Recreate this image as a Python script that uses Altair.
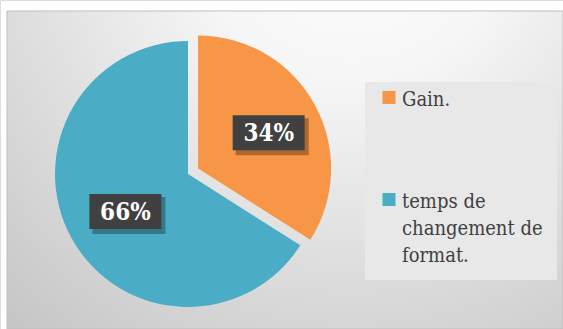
import altair as alt
import pandas as pd

# ---- data ----
categories = ["Gain.", "temps de changement de format."]
values = [34, 66]
explode = [11.5, 0]          # Excel-style slice explosion (px)
slice_order = [0, 1]
colors = ["#F79646", "#4BACC6"]

df = pd.DataFrame({
    "category": categories,
    "value": values,
    "explode": explode,
    "order": slice_order,
})

W, H = 563, 329
CX, CY, R = 188, 174, 133
LABEL_R = 76
BOX_W, BOX_H = 72, 35
SERIF = "DejaVu Serif Condensed, DejaVu Serif"

base = (
    alt.Chart(df)
    .transform_joinaggregate(total="sum(value)")
    .transform_window(cum="sum(value)", sort=[alt.SortField("order")], frame=[None, 0])
    .transform_calculate(
        a0="(datum.cum - datum.value) / datum.total * 2 * PI",
        a1="datum.cum / datum.total * 2 * PI",
        pct="format(datum.value / datum.total, '.0%')",
    )
    .transform_calculate(mid="(datum.a0 + datum.a1) / 2")
    .transform_calculate(
        cx=f"{CX} + datum.explode * sin(datum.mid)",
        cy=f"{CY} - datum.explode * cos(datum.mid)",
    )
    .transform_calculate(
        lx=f"datum.cx + {LABEL_R} * sin(datum.mid) + 4",
        ly=f"datum.cy - {LABEL_R} * cos(datum.mid) + 1",
    )
    .transform_calculate(
        bx0=f"datum.lx - {BOX_W / 2}",
        bx1=f"datum.lx + {BOX_W / 2}",
        by0=f"datum.ly - {BOX_H / 2}",
        by1=f"datum.ly + {BOX_H / 2}",
        sx0=f"datum.lx - {BOX_W / 2} + 3",
        sx1=f"datum.lx + {BOX_W / 2} + 4",
        sy0=f"datum.ly - {BOX_H / 2} + 3",
        sy1=f"datum.ly + {BOX_H / 2} + 5",
    )
)

background = alt.Chart(alt.Data(values=[{}])).mark_rect(
    fill=alt.Gradient(
        gradient="radial",
        stops=[
            alt.GradientStop(color="#ffffff", offset=0),
            alt.GradientStop(color="#f6f6f6", offset=0.3),
            alt.GradientStop(color="#c6c6c6", offset=1),
        ],
        x1=0.62, y1=0.05, r1=0,
        x2=0.62, y2=0.05, r2=0.95,
    ),
    stroke="#bfbfbf",
    strokeWidth=1,
).encode(
    x=alt.value(7), x2=alt.value(W), y=alt.value(11), y2=alt.value(H)
)

arcs = base.mark_arc(outerRadius=R).encode(
    theta=alt.Theta("a0:Q", scale=None, stack=None),
    theta2="a1:Q",
    x=alt.X("cx:Q", scale=None, stack=None),
    y=alt.Y("cy:Q", scale=None, stack=None),
    color=alt.Color(
        "category:N",
        scale=alt.Scale(domain=categories, range=colors),
        legend=alt.Legend(
            title=None,
            orient="none",
            legendX=365,
            legendY=82,
            padding=14,
            fillColor="#e8e8e8",
            symbolType="M-1,-2.31H1V-0.31H-1Z",
            symbolSize=169,
            symbolStrokeWidth=0,
            symbolOpacity=1,
            labelFont=SERIF,
            labelFontSize=20,
            labelColor="#404040",
            labelBaseline="alphabetic",
            labelLimit=220,
            labelOffset=3,
            rowPadding=82,
            labelExpr="datum.label == 'temps de changement de format.' ? ['temps de', 'changement de', 'format.'] : datum.label",
        ),
    ),
    order=alt.Order("order:Q"),
)

shadows = base.mark_rect(fill="#000000", opacity=0.3).encode(
    x=alt.X("sx0:Q", scale=None), x2="sx1:Q",
    y=alt.Y("sy0:Q", scale=None), y2="sy1:Q",
)

boxes = base.mark_rect(fill="#404040").encode(
    x=alt.X("bx0:Q", scale=None), x2="bx1:Q",
    y=alt.Y("by0:Q", scale=None), y2="by1:Q",
)

texts = base.mark_text(
    font=SERIF, fontSize=24, fontWeight="bold",
    color="#ffffff", align="center", baseline="middle", dy=1,
).encode(
    x=alt.X("lx:Q", scale=None),
    y=alt.Y("ly:Q", scale=None),
    text="pct:N",
)

chart = alt.layer(background, arcs, shadows, boxes, texts).properties(
    width=W, height=H, padding=0, autosize=alt.AutoSizeParams(type="none"),
    background="#ffffff",
).configure_view(stroke=None).configure(
    style={"guide-label": {"lineHeight": 27}}
)

chart.save("out.html", embed_options={"renderer": "svg", "actions": False})
